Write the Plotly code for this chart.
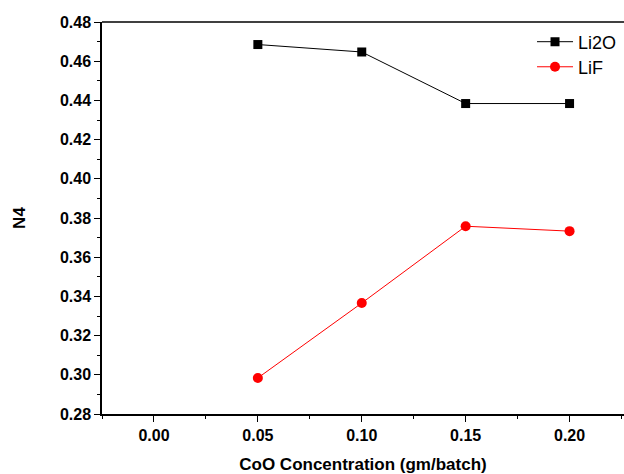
import plotly.graph_objects as go

conc = [0.05, 0.10, 0.15, 0.20]
li2o = [0.4685, 0.4647, 0.4384, 0.4384]
lif = [0.2984, 0.3366, 0.3758, 0.3733]
x_ticks = [0.00, 0.05, 0.10, 0.15, 0.20]
y_ticks = [0.28, 0.30, 0.32, 0.34, 0.36, 0.38, 0.40, 0.42, 0.44, 0.46, 0.48]

fig = go.Figure()
fig.add_trace(go.Scatter(x=conc, y=li2o, name="Li2O", mode="lines+markers",
                         line=dict(color="black", width=1), legend="legend",
                         marker=dict(symbol="square", size=9, color="black")))
fig.add_trace(go.Scatter(x=conc, y=lif, name="LiF", mode="lines+markers",
                         line=dict(color="red", width=1), legend="legend2",
                         marker=dict(symbol="circle", size=10, color="red")))

leg_common = dict(xanchor="left", yanchor="middle", font=dict(size=18),
                  bgcolor="rgba(0,0,0,0)", itemwidth=36)

fig.update_layout(
    width=624, height=474,
    margin=dict(l=102, r=0, t=22, b=60),
    paper_bgcolor="white", plot_bgcolor="white",
    font=dict(family="Liberation Sans, Arial", color="black"),
    showlegend=True,
    legend=dict(x=0.8238, y=0.949, **leg_common),
    legend2=dict(x=0.8238, y=0.885, **leg_common),
    xaxis=dict(range=[-0.025, 0.2262], tickvals=x_ticks, automargin=False,
               ticktext=["%.2f" % v for v in x_ticks],
               showgrid=False, zeroline=False, showline=True, linecolor="black", linewidth=1.5,
               ticks="outside", ticklen=6, tickwidth=1, tickcolor="black",
               minor=dict(ticks="outside", ticklen=3, dtick=0.025, tick0=0.025, tickcolor="black"),
               tickfont=dict(size=16, family="Liberation Sans, Arial", weight="bold"),
               title=dict(text="<b>CoO Concentration (gm/batch)</b>", font=dict(size=17), standoff=16)),
    yaxis=dict(range=[0.28, 0.48], tickvals=y_ticks, automargin=False,
               ticktext=["%.2f" % v for v in y_ticks],
               showgrid=False, zeroline=False, showline=True, linecolor="black", linewidth=1.5,
               ticks="outside", ticklen=6, tickwidth=1, tickcolor="black",
               minor=dict(ticks="outside", ticklen=3, dtick=0.01, tick0=0.29, tickcolor="black"),
               tickfont=dict(size=16, family="Liberation Sans, Arial", weight="bold"),
               title=dict(text="<b>N4</b>", font=dict(size=17), standoff=30)),
    shapes=[dict(type="line", xref="paper", yref="paper", x0=0, x1=1, y0=1, y1=1,
                 line=dict(color="black", width=1.5))],
)

fig.write_html("out.html", config={"displayModeBar": False},
               post_script="document.body.style.margin='0';document.body.style.overflow='hidden';")
